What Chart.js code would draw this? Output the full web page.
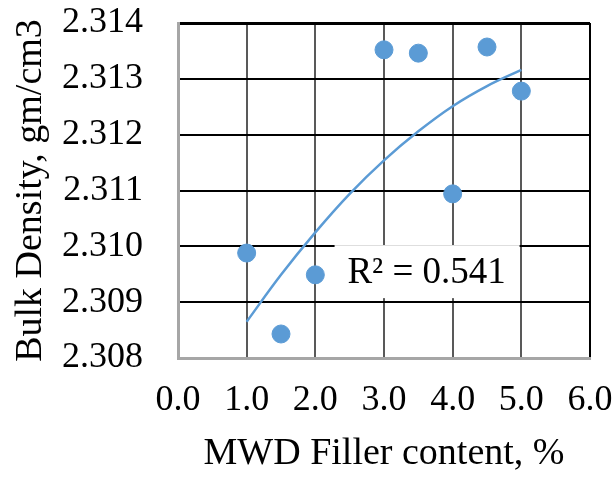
<html>
<head>
<script src="https://cdn.jsdelivr.net/npm/chart.js@4.4.1/dist/chart.umd.min.js"></script>
<style>
body { margin: 0; background: #fff; }
#wrap { width: 616px; height: 477px; }
</style>
</head>
<body>
<div id="wrap"><canvas id="myChart"></canvas></div>
<script>
// measured points
var filler = [1.0, 1.5, 2.0, 3.0, 3.5, 4.0, 4.5, 5.0];
var density = [2.30988, 2.30843, 2.30949, 2.31352, 2.31346, 2.31094, 2.31357, 2.31278];
// trendline
var trendX = [1.0, 1.5, 2.0, 2.5, 3.0, 3.5, 4.0, 4.5, 5.0];
var trendY = [2.30865, 2.30949, 2.31025, 2.31094, 2.31154, 2.31206, 2.31251, 2.31287, 2.31316];
var r2Label = 'R\u00b2 = 0.541';
var r2Pos = {x: 3.62, y: 2.30952};

var serif = '"Liberation Serif", "Times New Roman", serif';
var blue = '#5B9BD5';

var pts = filler.map(function(x, i){ return {x: x, y: density[i]}; });
var trend = trendX.map(function(x, i){ return {x: x, y: trendY[i]}; });

var r2Box = {
  id: 'r2Box',
  beforeDatasetsDraw: function(chart){
    var c = chart.ctx;
    var px = chart.scales.x.getPixelForValue(r2Pos.x);
    var py = chart.scales.y.getPixelForValue(r2Pos.y);
    c.save();
    c.fillStyle = '#fff';
    c.fillRect(px - 92, py - 28, 185, 53);
    c.fillStyle = '#000';
    c.font = '37px ' + serif;
    c.textAlign = 'center';
    c.textBaseline = 'middle';
    c.fillText(r2Label, px, py);
    c.restore();
  }
};

var ctx = document.getElementById('myChart').getContext('2d');
var myChart = new Chart(ctx, {
  type: 'scatter',
  data: {
    datasets: [
    {
      label: 'trend',
      type: 'line',
      data: trend,
      borderColor: blue,
      borderWidth: 2.5,
      pointRadius: 0,
      tension: 0.4,
      fill: false
    },
    {
      label: 'Bulk Density',
      data: pts,
      backgroundColor: blue,
      borderColor: blue,
      pointRadius: 9,
      pointHoverRadius: 9
    }
    ]
  },
  plugins: [r2Box],
  options: {
    responsive: true,
    maintainAspectRatio: false,
    animation: false,
    layout: { padding: { top: 23, right: 26, left: 0, bottom: 0 } },
    plugins: { legend: { display: false }, tooltip: { enabled: false } },
    scales: {
      x: {
        type: 'linear',
        min: 0, max: 6,
        afterFit: function(s){
          s.height = 119;
          s.paddingLeft = 0; s.paddingRight = 0;
        },
        ticks: {
          stepSize: 1,
          maxRotation: 0,
          color: '#000',
          padding: 21,
          font: { family: serif, size: 36 },
          callback: function(v){ return v.toFixed(1); }
        },
        grid: {
          drawTicks: false,
          lineWidth: 2,
          color: function(c){ return c.tick && c.tick.value === 6 ? '#000' : '#595959'; }
        },
        border: { color: '#a6a6a6', width: 3 },
        title: {
          display: true,
          text: 'MWD Filler content, %',
          color: '#000',
          font: { family: serif, size: 38 },
          padding: { top: 0, bottom: 0 }
        }
      },
      y: {
        min: 2.308, max: 2.314,
        afterFit: function(s){
          s.width = 178;
          s.paddingTop = 0; s.paddingBottom = 0;
        },
        ticks: {
          stepSize: 0.001,
          color: '#000',
          padding: 35,
          font: { family: serif, size: 36 },
          callback: function(v){ return v.toFixed(3); }
        },
        grid: {
          drawTicks: false,
          lineWidth: function(c){ return c.tick && c.tick.value > 2.3139 ? 3 : 2; },
          color: '#000'
        },
        border: { color: '#a6a6a6', width: 3 },
        title: {
          display: true,
          text: 'Bulk Density, gm/cm3',
          color: '#000',
          font: { family: serif, size: 38 },
          padding: { top: 8, bottom: 0 }
        }
      }
    }
  }
});
</script>
</body>
</html>
